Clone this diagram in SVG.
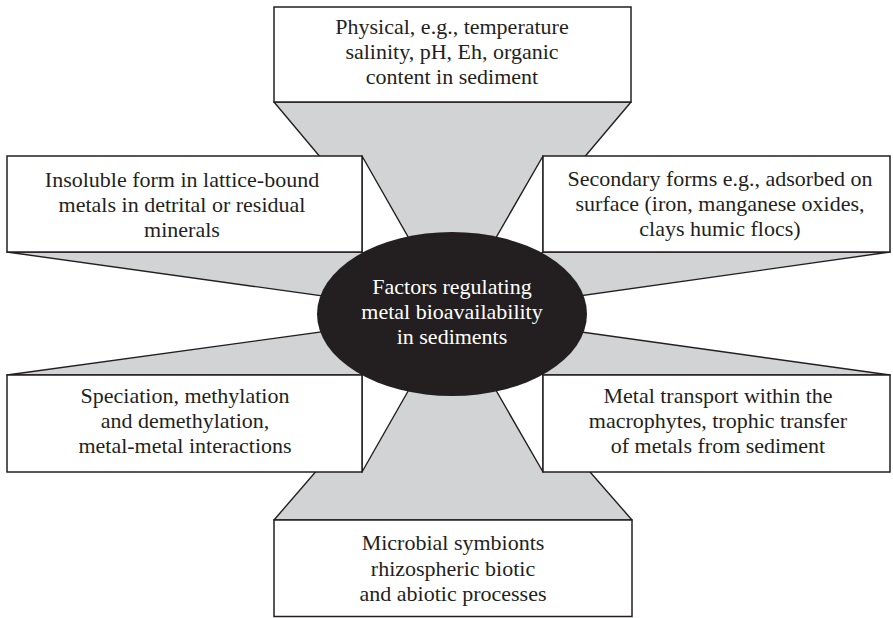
<svg xmlns="http://www.w3.org/2000/svg" width="893" height="618" viewBox="0 0 893 618">
<style>
.gray{fill:#d1d3d4;stroke:#231f20;stroke-width:1.4;stroke-linejoin:round}
.side{fill:#ffffff;stroke:#231f20;stroke-width:1.4;stroke-linejoin:round}
.box{fill:#ffffff;stroke:#231f20;stroke-width:1.5}
.t{font-family:"Liberation Serif","Times New Roman",serif;font-size:22px;fill:#231f20;text-anchor:middle}
.w{fill:#ffffff}
</style>
<rect width="893" height="618" fill="#ffffff"/>
<g id="connectors">
<polygon class="gray" points="274,102 631,102 452,314"/>
<polygon class="gray" points="274,520 632,520 452,314"/>
<polygon class="gray" points="7,252 362,252 452,314"/>
<polygon class="gray" points="543,252 890,252 452,314"/>
<polygon class="gray" points="7,375 362,375 452,314"/>
<polygon class="gray" points="543,375 890,375 452,314"/>
<polygon class="side" points="362,156 362,252 452,314"/>
<polygon class="side" points="543,156 543,252 452,314"/>
<polygon class="side" points="362,375 362,472 452,314"/>
<polygon class="side" points="543,375 543,472 452,314"/>
</g>
<g id="top">
<rect class="box" x="274" y="7" width="357" height="95"/>
<text class="t" x="452" y="34">Physical, e.g., temperature</text>
<text class="t" x="452" y="59">salinity, pH, Eh, organic</text>
<text class="t" x="452" y="84">content in sediment</text>
</g>
<g id="insoluble">
<rect class="box" x="7" y="156" width="355" height="96"/>
<text class="t" x="182" y="187">Insoluble form in lattice-bound</text>
<text class="t" x="182" y="212">metals in detrital or residual</text>
<text class="t" x="182" y="237">minerals</text>
</g>
<g id="secondary">
<rect class="box" x="543" y="156" width="347" height="96"/>
<text class="t" x="720" y="186">Secondary forms e.g., adsorbed on</text>
<text class="t" x="720" y="211">surface (iron, manganese oxides,</text>
<text class="t" x="720" y="236">clays humic flocs)</text>
</g>
<g id="speciation">
<rect class="box" x="7" y="375" width="355" height="97"/>
<text class="t" x="185" y="403">Speciation, methylation</text>
<text class="t" x="185" y="428">and demethylation,</text>
<text class="t" x="185" y="453">metal-metal interactions</text>
</g>
<g id="transport">
<rect class="box" x="543" y="375" width="347" height="97"/>
<text class="t" x="718" y="403">Metal transport within the</text>
<text class="t" x="718" y="428">macrophytes, trophic transfer</text>
<text class="t" x="718" y="453">of metals from sediment</text>
</g>
<g id="microbial">
<rect class="box" x="274" y="520" width="358" height="96.5"/>
<text class="t" x="453" y="550">Microbial symbionts</text>
<text class="t" x="453" y="576">rhizospheric biotic</text>
<text class="t" x="453" y="601">and abiotic processes</text>
</g>
<g id="center">
<ellipse cx="452" cy="314" rx="135" ry="82" fill="#231f20"/>
<text class="t w" x="452" y="294">Factors regulating</text>
<text class="t w" x="452" y="319">metal bioavailability</text>
<text class="t w" x="452" y="344">in sediments</text>
</g>
</svg>
